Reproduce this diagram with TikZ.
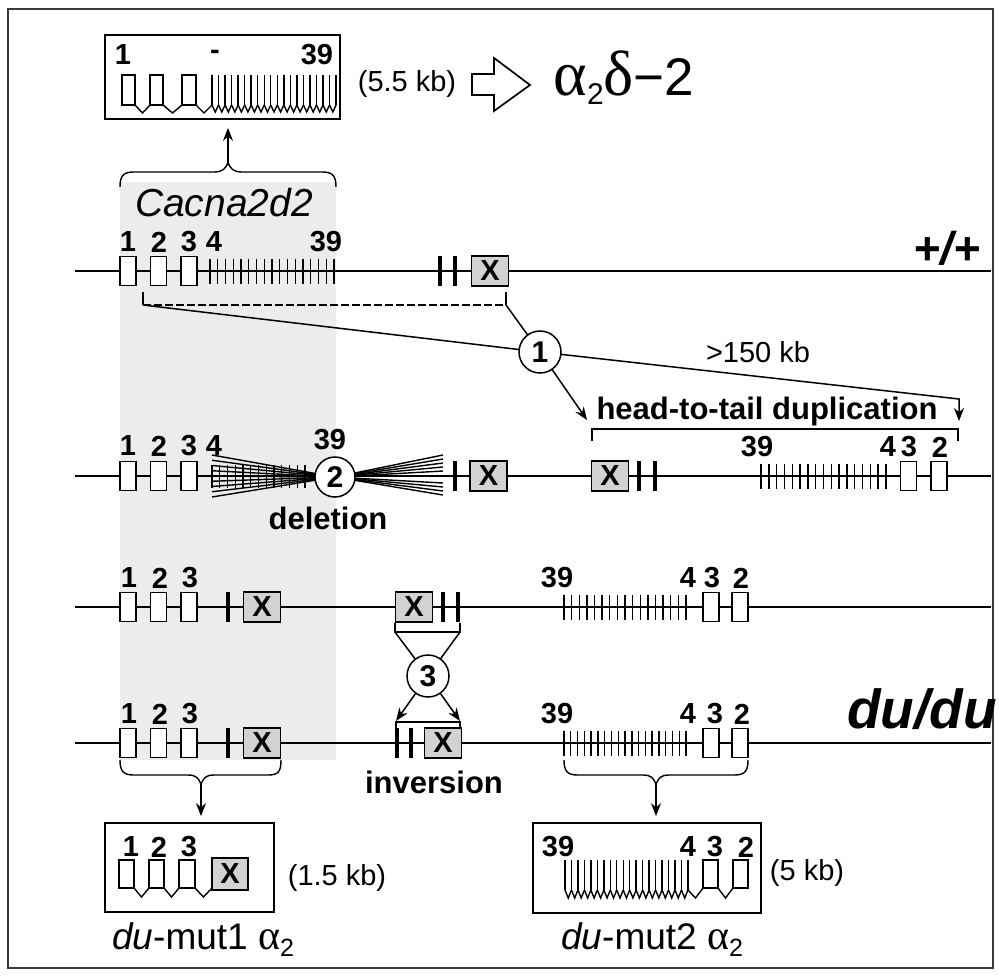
\documentclass[tikz,border=0pt]{standalone}
\usepackage{fontspec}
\setmainfont{Liberation Sans}
\newfontfamily\greekfont{Liberation Serif}
\usetikzlibrary{arrows.meta}
\pgfdeclarelayer{back}
\pgfdeclarelayer{links}
\pgfsetlayers{back,links,main}
\definecolor{xgray}{HTML}{D2D2D2}
\definecolor{shadegray}{HTML}{ECECEC}
\definecolor{framecol}{HTML}{3A3A3A}
\tikzset{
  exon/.style={draw, fill=white, line width=1.4pt, minimum width=16pt, minimum height=29pt, inner sep=0pt},
  xbox/.style={draw, fill=xgray, line width=1.4pt, minimum width=37pt, minimum height=30pt, inner sep=0pt, font=\fontsize{29}{29}\selectfont\bfseries},
  num/.style={font=\fontsize{29}{29}\selectfont\bfseries, inner sep=0pt},
  lab/.style={font=\fontsize{31}{31}\selectfont\bfseries, inner sep=0pt},
  kb/.style={font=\fontsize{29}{29}\selectfont, inner sep=0pt},
  stepcircle/.style={circle, draw, fill=white, line width=1.5pt, minimum size=42pt, inner sep=0pt, font=\fontsize{30}{30}\selectfont\bfseries},
  rowline/.style={line width=1.3pt},
  thinexon/.style={line width=1.4pt},
  bar/.style={line width=4pt},
  arr/.style={-{Stealth[length=13pt,width=10pt]}, line width=1.5pt},
  tbox/.style={draw, line width=1.7pt, inner sep=0pt},
}
\newcommand{\thinrow}[5]{\foreach \i in {0,...,#3}{\draw[thinexon] ({#1+#2*\i},#4) -- ({#1+#2*\i},#5);}}
\newcommand{\zigrow}[6]{\thinrow{#1}{#2}{#3}{#4}{#5}\foreach \i in {1,...,#3}{\draw[thinexon, line join=miter] ({#1+#2*(\i-1)},#5) -- ({#1+#2*(\i-0.5)},#6) -- ({#1+#2*\i},#5);}}
\begin{document}
\begin{tikzpicture}[x=1pt,y=-1pt]
\useasboundingbox (0,0) rectangle (999,975);
\begin{pgfonlayer}{back}
\fill[white] (0,0) rectangle (999,975);
\fill[shadegray] (120,182) rectangle (336,760);
\end{pgfonlayer}
\draw[framecol, line width=1.6pt] (8,9) rectangle (993,968);

% ---------- top transcript box ----------
\node[tbox, minimum width=235pt, minimum height=84pt] (topbox) at (222.5,77) {};
\node[num] (t1) at (123,55) {1};
\node[num] (tdash) at (215,55) {-};
\node[num] (t39) at (317,55) {39};
\draw[thinexon] (122,75) rectangle (135,105);
\draw[thinexon] (150,75) rectangle (163,105);
\draw[thinexon] (182,75) rectangle (196,105);
\draw[thinexon, line join=miter] (135,105) -- (142.5,113) -- (150,105);
\draw[thinexon, line join=miter] (163,105) -- (172.5,113) -- (182,105);
\draw[thinexon, line join=miter] (196,105) -- (204,113) -- (212,105);
\zigrow{212}{6.53}{19}{75}{105}{112}
\node[kb] (kb55) at (407,84) {(5.5 kb)};
\draw[line width=1.7pt, line join=miter] (472,74) -- (494,74) -- (494,58) -- (530,85) -- (494,111) -- (494,95) -- (472,95) -- cycle;
\node[inner sep=0pt] (prod) at (624,78) {\fontsize{53}{53}\selectfont{\fontsize{64}{64}\selectfont\greekfont α}\raisebox{-9pt}{\fontsize{30}{30}\selectfont 2}{\fontsize{64}{64}\selectfont\greekfont δ}−2};

% brace over gene
\coordinate (cuspT) at (228,162);
\draw[line width=1.4pt] (120,187) .. controls (120,175) and (124,172) .. (134,172) -- (214,172) .. controls (222,172) and (226,169) .. (cuspT) .. controls (230,169) and (234,172) .. (242,172) -- (322,172) .. controls (332,172) and (336,175) .. (336,187);
\draw[arr, shorten >=8pt] (cuspT) -- (topbox.south -| cuspT);
\node[inner sep=0pt, font=\fontsize{39}{39}\selectfont\itshape] (gene) at (224,203) {Cacna2d2};

% ---------- row 1 (+/+) ----------
\draw[rowline] (75,271) -- (991,271);
\node[exon] (a1) at (128,271) {};
\node[exon] (a2) at (158.5,271) {};
\node[exon] (a3) at (189,271) {};
\thinrow{210}{7.75}{16}{259}{284}
\draw[bar] (440,256) -- (440,286);
\draw[bar] (455,256) -- (455,286);
\node[xbox] (ax) at (490,271) {X};
\node[num] (an1) at (128,242) {1};
\node[num] (an2) at (159,242) {2};
\node[num] (an3) at (189,242) {3};
\node[num] (an4) at (214,242) {4};
\node[num] (an39) at (326,242) {39};
\node[inner sep=0pt, font=\fontsize{46}{46}\selectfont\bfseries\itshape] (wt) at (947,248) {+/+};

% step 1: duplication
\node[stepcircle] (c1) at (540,352) {1};
\node[kb] (kb150) at (758,352) {>150 kb};
\coordinate (dl) at (143,305);
\coordinate (dr) at (506,305);
\coordinate (bendR) at (959,399);
\coordinate (tipR) at (959,421);
\coordinate (tipL) at (587,420);
\begin{pgfonlayer}{links}
\draw[rowline] (143,292) -- (dl);
\draw[rowline] (506,292) -- (dr);
\draw[rowline, dash pattern=on 8pt off 3pt] (dl) -- (dr);
\draw[arr] (dl) -- (c1.center) -- (bendR) -- (tipR);
\draw[arr] (dr) -- (c1.center) -- (tipL);
\end{pgfonlayer}
\node[lab] (dup) at (767,411) {head-to-tail duplication};
\draw[rowline] (592,441) -- (592,429) -- (958,429) -- (958,441);

% ---------- row 2 ----------
\draw[rowline] (75,476) -- (991,476);
\node[exon] (b1) at (128,476) {};
\node[exon] (b2) at (158.5,476) {};
\node[exon] (b3) at (189,476) {};
\node[num] (bn1) at (128,446) {1};
\node[num] (bn2) at (159,446) {2};
\node[num] (bn3) at (189,446) {3};
\node[num] (bn4) at (214,446) {4};
\node[num] (bn39) at (330,440) {39};
\node[stepcircle, minimum size=40pt] (c2) at (335,477) {2};
\begin{pgfonlayer}{links}
\thinrow{212}{7.75}{12}{465}{488}
\foreach \k in {0,...,8}{\draw[thinexon] (212,{455+5.25*\k}) -- (c2.center);}
\foreach \yy in {455,459,463,467,471,483,487,491,495}{\draw[thinexon] (c2.center) -- (443,\yy);}
\end{pgfonlayer}
\draw[bar] (455,461) -- (455,491);
\node[xbox] (bx) at (488.5,476) {X};
\node[lab] (del) at (328,518) {deletion};
\node[xbox] (bx2) at (610,476) {X};
\draw[bar] (639,461) -- (639,491);
\draw[bar] (655,461) -- (655,491);
\thinrow{761}{7.8}{16}{464}{489}
\node[exon] (b3r) at (908.5,476) {};
\node[exon] (b2r) at (939,476) {};
\node[num] (bn39r) at (757,447) {39};
\node[num] (bn4r) at (888,447) {4};
\node[num] (bn3r) at (909,447) {3};
\node[num] (bn2r) at (940,447) {2};

% ---------- row 3 ----------
\draw[rowline] (75,607) -- (991,607);
\node[exon] (c31) at (128,607) {};
\node[exon] (c32) at (158.5,607) {};
\node[exon] (c33) at (189,607) {};
\node[num] (cn1) at (129,578) {1};
\node[num] (cn2) at (160,578) {2};
\node[num] (cn3) at (190,578) {3};
\draw[bar] (228,592) -- (228,622);
\node[xbox] (cx) at (262,607) {X};
\node[xbox] (cx2) at (414,607) {X};
\draw[bar] (443,592) -- (443,622);
\draw[bar] (458,592) -- (458,622);
\thinrow{564}{7.625}{16}{595}{620}
\node[exon] (c3r) at (711,607) {};
\node[exon] (c2r) at (740,607) {};
\node[num] (cn39r) at (557,578) {39};
\node[num] (cn4r) at (688,578) {4};
\node[num] (cn3r) at (712,578) {3};
\node[num] (cn2r) at (741,578) {2};

% step 3: inversion
\node[stepcircle] (c3) at (428,676) {3};
\coordinate (iul) at (395,632);
\coordinate (iur) at (460,632);
\coordinate (ill) at (396,721);
\coordinate (ilr) at (460,721);
\begin{pgfonlayer}{links}
\draw[rowline] (395,623) -- (iul) -- (iur) -- (460,623);
\draw[arr] (iul) -- (c3.center) -- (ilr);
\draw[arr] (iur) -- (c3.center) -- (ill);
\draw[rowline] (396,729) -- (396,722) -- (460,722) -- (460,729);
\end{pgfonlayer}

% ---------- row 4 (du/du) ----------
\draw[rowline] (75,743) -- (991,743);
\node[exon] (d1) at (128,743) {};
\node[exon] (d2) at (158.5,743) {};
\node[exon] (d3) at (189,743) {};
\node[num] (dn1) at (129,714) {1};
\node[num] (dn2) at (160,714) {2};
\node[num] (dn3) at (190,714) {3};
\draw[bar] (228,728) -- (228,758);
\node[xbox] (dx) at (262,743) {X};
\draw[bar] (397,728) -- (397,758);
\draw[bar] (411,728) -- (411,758);
\node[xbox] (dx2) at (443,743) {X};
\node[lab] (inv) at (434,782) {inversion};
\thinrow{564}{6.78}{18}{731}{756}
\node[exon] (d3r) at (711,743) {};
\node[exon] (d2r) at (740,743) {};
\node[num] (dn39r) at (557,714) {39};
\node[num] (dn4r) at (688,714) {4};
\node[num] (dn3r) at (715,714) {3};
\node[num] (dn2r) at (742,714) {2};
\node[inner sep=0pt, anchor=east, font=\fontsize{55}{55}\selectfont\bfseries\itshape] (mut) at (997,709) {du/du};

% braces below row 4
\coordinate (cuspL) at (201,785);
\coordinate (cuspR) at (656,785);
\draw[line width=1.4pt] (120,760) .. controls (120,772) and (124,775) .. (134,775) -- (188,775) .. controls (196,775) and (199,778) .. (cuspL) .. controls (203,778) and (206,775) .. (214,775) -- (268,775) .. controls (278,775) and (281,772) .. (281,760);
\draw[line width=1.4pt] (564,760) .. controls (564,772) and (568,775) .. (578,775) -- (643,775) .. controls (651,775) and (654,778) .. (cuspR) .. controls (658,778) and (661,775) .. (669,775) -- (734,775) .. controls (744,775) and (748,772) .. (748,760);

% ---------- bottom left transcript ----------
\node[tbox, minimum width=169pt, minimum height=89pt] (bl) at (189.5,867.5) {};
\draw[arr, shorten >=6pt] (cuspL) -- (bl.north -| cuspL);
\draw[thinexon] (119,860) rectangle (134,888);
\draw[thinexon] (149,860) rectangle (164,888);
\draw[thinexon] (179,860) rectangle (195,888);
\node[xbox, minimum width=36pt, minimum height=32pt] (blx) at (230,874) {X};
\draw[thinexon, line join=miter] (134,888) -- (141.5,897) -- (149,888);
\draw[thinexon, line join=miter] (164,888) -- (171.5,897) -- (179,888);
\draw[thinexon, line join=miter] (195,888) -- (203.5,897) -- (212,888);
\node[num] (bln1) at (131,847) {1};
\node[num] (bln2) at (159,847) {2};
\node[num] (bln3) at (189,847) {3};
\node[kb] (kb15) at (337,878) {(1.5 kb)};
\node[inner sep=0pt, font=\fontsize{37}{37}\selectfont] (m1) at (203,940) {{\itshape du}-mut1 {\greekfont\fontsize{42}{42}\selectfont α}\raisebox{-7pt}{\fontsize{25}{25}\selectfont 2}};

% ---------- bottom right transcript ----------
\node[tbox, minimum width=228pt, minimum height=90pt] (br) at (647,868) {};
\draw[arr, shorten >=6pt] (cuspR) -- (br.north -| cuspR);
\zigrow{565}{6.47}{19}{860}{890}{898}
\draw[thinexon] (703,860) rectangle (718,888);
\draw[thinexon] (733,860) rectangle (748,888);
\draw[thinexon, line join=miter] (688,890) -- (695.5,898) -- (703,888);
\draw[thinexon, line join=miter] (718,888) -- (725.5,898) -- (733,888);
\node[num] (brn39) at (558,847) {39};
\node[num] (brn4) at (688,847) {4};
\node[num] (brn3) at (715,847) {3};
\node[num] (brn2) at (746,847) {2};
\node[kb] (kb5) at (807,873) {(5 kb)};
\node[inner sep=0pt, font=\fontsize{37}{37}\selectfont] (m2) at (652,940) {{\itshape du}-mut2 {\greekfont\fontsize{42}{42}\selectfont α}\raisebox{-7pt}{\fontsize{25}{25}\selectfont 2}};
\end{tikzpicture}
\end{document}
